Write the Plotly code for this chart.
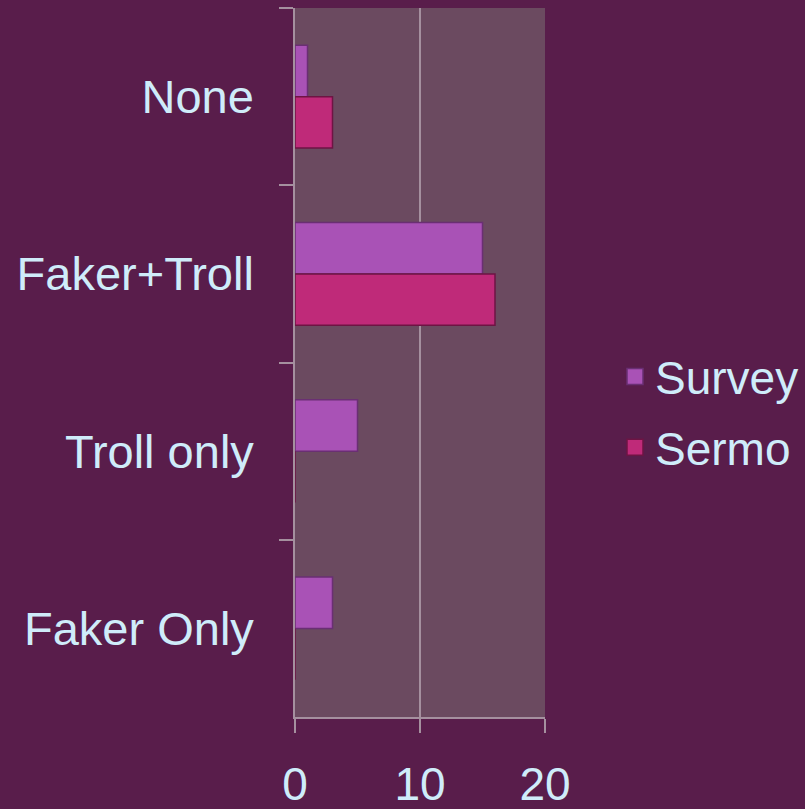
import plotly.graph_objects as go

categories = ["None", "Faker+Troll", "Troll only", "Faker Only"]
survey = [1, 15, 5, 3]
sermo = [3, 16, 0, 0]
x_ticks = [0, 10, 20]

BG = "#591d4b"
PLOT_BG = "#6b4a60"
TEXT = "#cfecfa"
GRID = "#a5909f"
FONT = "Liberation Sans, Arial, sans-serif"
SURVEY_C = "#a952b6"
SERMO_C = "#bf2a79"

fig = go.Figure()
fig.add_trace(go.Bar(
    y=categories, x=survey, name="Survey", orientation="h", showlegend=False,
    marker=dict(color=SURVEY_C, line=dict(color="#6a2f73", width=1.5)),
))
fig.add_trace(go.Bar(
    y=categories, x=sermo, name="Sermo", orientation="h", showlegend=False,
    marker=dict(color=SERMO_C, line=dict(color="#6e1444", width=1.5)),
))
# legend entries with larger square swatches
for name, col, edge in [("Survey", SURVEY_C, "#6a2f73"), ("Sermo", SERMO_C, "#6e1444")]:
    fig.add_trace(go.Scatter(
        x=[None], y=[None], mode="markers", name=name, legendgroup=name,
        marker=dict(symbol="square", size=22, color=col, line=dict(color=edge, width=1.5)),
    ))

fig.update_layout(
    width=805, height=809,
    paper_bgcolor=BG, plot_bgcolor=PLOT_BG,
    margin=dict(l=295, r=260, t=8, b=92, autoexpand=False),
    barmode="group", bargap=0.42, bargroupgap=0,
    font=dict(family=FONT, size=46, color=TEXT),
    showlegend=True,
    legend=dict(x=1.28, y=0.43, xanchor="left", yanchor="middle",
                bgcolor="rgba(0,0,0,0)", font=dict(size=46, color=TEXT),
                itemwidth=30, tracegroupgap=8, traceorder="grouped"),
    xaxis=dict(range=[0, 20], tickvals=x_ticks, showgrid=True, gridcolor=GRID,
               gridwidth=1.5, zeroline=False, showline=True, linecolor=GRID,
               linewidth=1.5, ticks="outside", ticklen=14, tickcolor=GRID,
               tickwidth=1.5, ticklabelstandoff=12, fixedrange=True,
               automargin=False),
    yaxis=dict(autorange="reversed", type="category", showgrid=False,
               showline=True, linecolor=GRID, linewidth=1.5,
               ticks="outside", ticklen=14, tickcolor=GRID, tickwidth=1.5,
               tickson="boundaries", ticklabelstandoff=30, fixedrange=True,
               tickfont=dict(size=47), automargin=False),
)

fig.write_html(
    "out.html",
    config={"displayModeBar": False},
    post_script="document.body.style.margin='0';document.body.style.background='%s';" % BG,
)
